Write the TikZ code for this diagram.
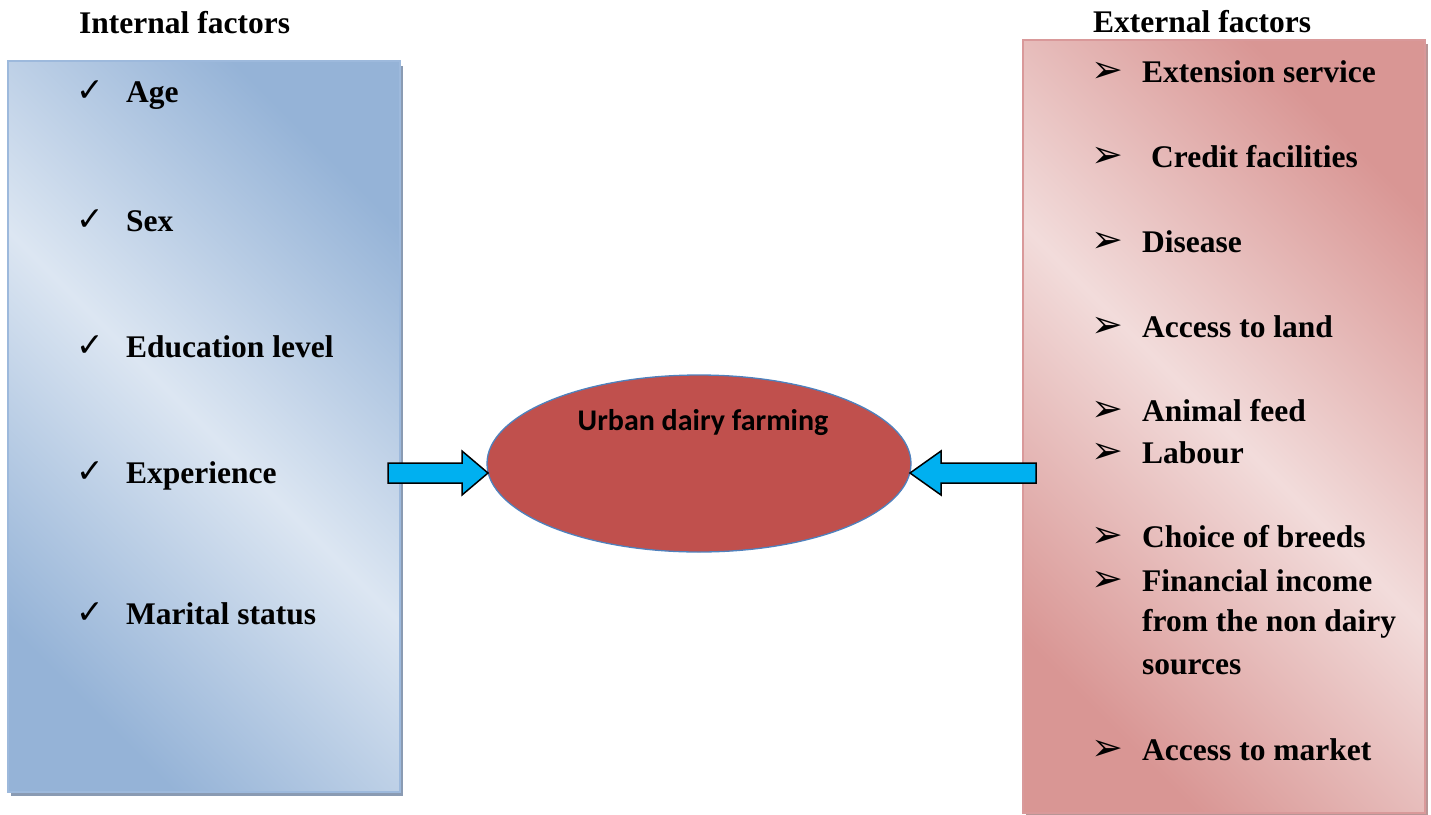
\documentclass[tikz,border=0pt]{standalone}
\usepackage{fontspec}
\usetikzlibrary{shapes.geometric}
\newfontfamily\tnr{Liberation Serif}
\newfontfamily\calib{Carlito}
\newfontfamily\djv{DejaVu Sans}
\definecolor{bluelight}{HTML}{DCE6F2}
\definecolor{bluedark}{HTML}{95B3D7}
\definecolor{blueedge}{HTML}{9DB9DC}
\definecolor{blueshadow}{HTML}{8A9BB3}
\definecolor{pinklight}{HTML}{F2DCDB}
\definecolor{pinkdark}{HTML}{D99694}
\definecolor{pinkedge}{HTML}{D9999A}
\definecolor{pinkshadow}{HTML}{B89595}
\definecolor{ellfill}{HTML}{C0504D}
\definecolor{ellline}{HTML}{4F81BD}
\definecolor{arrowfill}{HTML}{00B0F0}
\tikzset{
  itemtext/.style={anchor=base west, inner sep=0pt, font=\tnr\bfseries\fontsize{31.5}{36}\selectfont},
  checkmark/.style={anchor=center, inner sep=0pt, font=\djv\fontsize{33}{36}\selectfont},
  arrbullet/.style={anchor=center, inner sep=0pt, font=\djv\fontsize{38}{40}\selectfont},
  bigarrow/.style={fill=arrowfill, draw=black, line width=1.5pt, line join=miter},
}
\begin{document}
\begin{tikzpicture}[x=1pt,y=-1pt]
\useasboundingbox (0,0) rectangle (1431,814);
% left box
\fill[blueshadow] (11,66) rectangle (403,796);
\path[draw=blueedge, line width=1.5pt, top color=bluedark, bottom color=bluedark, middle color=bluelight, shading angle=-45] (8,61) rectangle (400,792);
% right box
\fill[pinkshadow] (1026,44) rectangle (1428,817);
\path[draw=pinkedge, line width=1.5pt, top color=pinkdark, bottom color=pinkdark, middle color=pinklight, shading angle=-45] (1023,40) rectangle (1425,813);
% headers
\node[itemtext] (hint) at (79,33) {Internal factors};
\node[itemtext] (hext) at (1093,32) {External factors};
% left items
\foreach \y/\t [count=\i] in {102/Age,231/Sex,357/Education level,483/Experience,624/Marital status}{
  \node[checkmark] (ck\i) at (90,\y-11) {✓};
  \node[itemtext] (li\i) at (126,\y) {\t};
}
% right items
\foreach \y/\t [count=\i] in {82/Extension service,252/Disease,337/Access to land,421/Animal feed,463/Labour,547/Choice of breeds,591/Financial income,760/Access to market}{
  \node[arrbullet] (ab\i) at (1107,\y-10) {➢};
  \node[itemtext] (ri\i) at (1142,\y) {\t};
}
\node[arrbullet] (abc) at (1107,157) {➢};
\node[itemtext] (ric) at (1151,167) {Credit facilities};
\node[itemtext] (rf2) at (1142,631) {from the non dairy};
\node[itemtext] (rf3) at (1142,674) {sources};
% ellipse
\node[ellipse, draw=ellline, line width=1.3pt, fill=ellfill, minimum width=424pt, minimum height=177pt, inner sep=0pt] (ell) at (699,463.5) {};
\node[anchor=base, inner sep=0pt, font=\calib\bfseries\fontsize{30}{36}\selectfont] (elltext) at (703,430) {Urban dairy farming};
% arrows
\coordinate (ltip) at (488,473);
\coordinate (rtip) at (910,473);
\draw[bigarrow] (388,463) -- (462,463) -- (462,451) -- (ltip) -- (462,495) -- (462,483) -- (388,483) -- cycle;
\draw[bigarrow] (1036,463) -- (941,463) -- (941,451) -- (rtip) -- (941,495) -- (941,483) -- (1036,483) -- cycle;
\end{tikzpicture}
\end{document}
